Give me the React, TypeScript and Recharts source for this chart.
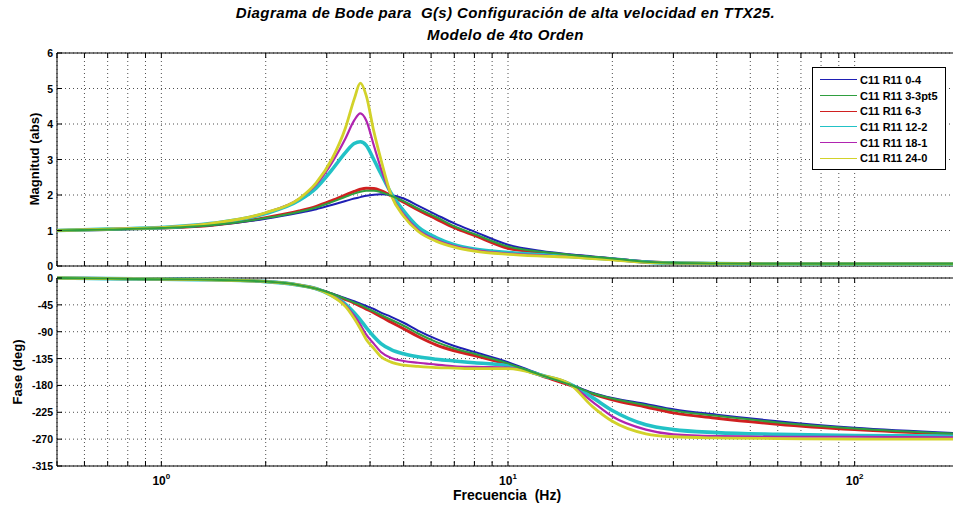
import React from "react";
import {
  LineChart,
  Line,
  XAxis,
  YAxis,
  CartesianGrid,
  ReferenceArea,
} from "recharts";

// frequency points (Hz)
const FREQ = [0.5, 0.7, 1, 1.4, 2, 2.5, 2.8, 3.1, 3.4, 3.6, 3.75, 3.9, 4.1, 4.3, 4.6, 5, 5.5, 6.2, 7, 8, 10, 12.5, 15, 17.5, 20, 25, 30, 40, 60, 100, 200];

// magnitude (abs)
const MAG_04 = [1.0, 1.03, 1.07, 1.15, 1.33, 1.5, 1.6, 1.72, 1.83, 1.9, 1.94, 1.98, 2.01, 2.02, 2.0, 1.9, 1.7, 1.45, 1.2, 0.97, 0.6, 0.42, 0.33, 0.27, 0.22, 0.13, 0.09, 0.07, 0.06, 0.06, 0.06];
const MAG_33 = [1.0, 1.03, 1.07, 1.15, 1.35, 1.53, 1.65, 1.8, 1.95, 2.04, 2.09, 2.12, 2.12, 2.08, 1.98, 1.83, 1.62, 1.38, 1.12, 0.9, 0.55, 0.4, 0.32, 0.26, 0.21, 0.12, 0.09, 0.07, 0.06, 0.06, 0.06];
const MAG_63 = [1.0, 1.03, 1.07, 1.15, 1.36, 1.55, 1.68, 1.84, 2.0, 2.1, 2.16, 2.19, 2.18, 2.12, 1.98, 1.8, 1.58, 1.33, 1.08, 0.86, 0.5, 0.38, 0.3, 0.25, 0.2, 0.12, 0.09, 0.07, 0.06, 0.06, 0.06];
const MAG_122 = [1.0, 1.04, 1.08, 1.2, 1.48, 1.85, 2.2, 2.7, 3.2, 3.45, 3.5, 3.4, 3.0, 2.6, 2.05, 1.55, 1.1, 0.8, 0.6, 0.48, 0.38, 0.32, 0.27, 0.23, 0.19, 0.11, 0.08, 0.07, 0.06, 0.06, 0.06];
const MAG_181 = [1.0, 1.04, 1.08, 1.2, 1.5, 1.9, 2.3, 2.9, 3.6, 4.1, 4.3, 4.1, 3.4, 2.75, 2.0, 1.45, 1.02, 0.74, 0.56, 0.45, 0.35, 0.3, 0.26, 0.22, 0.18, 0.1, 0.08, 0.07, 0.06, 0.06, 0.06];
const MAG_240 = [1.0, 1.04, 1.08, 1.2, 1.5, 1.9, 2.35, 3.0, 3.9, 4.7, 5.15, 4.8, 3.8, 3.0, 2.0, 1.4, 0.98, 0.7, 0.53, 0.42, 0.33, 0.28, 0.25, 0.21, 0.17, 0.1, 0.08, 0.07, 0.06, 0.06, 0.06];

// phase (deg)
const PH_04 = [0, -1, -2, -3, -6, -12, -18, -26, -34, -39, -43, -47, -52, -58, -65, -75, -88, -102, -114, -124, -141, -162, -177, -192, -201, -211, -220, -229, -240, -251, -260];
const PH_33 = [0, -1, -2, -3, -6, -12, -18, -26, -35, -41, -45, -50, -56, -62, -70, -80, -93, -107, -118, -127, -143, -163, -178, -193, -202, -213, -222, -231, -242, -252, -261];
const PH_63 = [0, -1, -2, -3, -6, -12, -18, -27, -36, -42, -47, -52, -58, -65, -74, -85, -98, -112, -122, -130, -145, -164, -179, -194, -204, -216, -226, -235, -245, -254, -262];
const PH_122 = [0, -1, -2, -3, -6, -12, -18, -29, -44, -58, -70, -83, -98, -110, -120, -127, -132, -136, -139, -142, -147, -163, -177, -200, -222, -246, -254, -259, -262, -264, -265];
const PH_181 = [0, -1, -2, -3, -6, -12, -18, -29, -46, -63, -78, -95, -110, -124, -134, -139, -142, -145, -148, -149, -150, -163, -177, -207, -232, -254, -262, -265, -266, -266, -267];
const PH_240 = [0, -1, -2, -3, -6, -12, -18, -30, -48, -68, -85, -103, -118, -132, -141, -146, -148, -150, -151, -152, -152, -163, -177, -215, -240, -261, -266, -268, -269, -270, -270];

// axis ticks
const X_TICKS = [0.5, 0.6, 0.7, 0.8, 0.9, 1, 2, 3, 4, 5, 6, 7, 8, 9, 10, 20, 30, 40, 50, 60, 70, 80, 90, 100, 200];
const X_LABELED = [1, 10, 100];
const MAG_TICKS = [0, 1, 2, 3, 4, 5, 6];
const PH_TICKS = [0, -45, -90, -135, -180, -225, -270, -315];

const SERIES = [
  { key: "s04", name: "C11 R11 0-4", color: "#1f1fb4", width: 2, mag: MAG_04, ph: PH_04 },
  { key: "s33", name: "C11 R11 3-3pt5", color: "#2f9f3f", width: 2, mag: MAG_33, ph: PH_33 },
  { key: "s63", name: "C11 R11 6-3", color: "#d02020", width: 3, mag: MAG_63, ph: PH_63 },
  { key: "s122", name: "C11 R11 12-2", color: "#22c2c6", width: 3.6, mag: MAG_122, ph: PH_122 },
  { key: "s181", name: "C11 R11 18-1", color: "#b024b0", width: 2.2, mag: MAG_181, ph: PH_181 },
  { key: "s240", name: "C11 R11 24-0", color: "#d2d22a", width: 2.8, mag: MAG_240, ph: PH_240 },
];
const DRAW_ORDER = ["s63", "s04", "s122", "s181", "s240", "s33"];

const rows = FREQ.map((f, i) => {
  const r: Record<string, number> = { f };
  SERIES.forEach((s) => {
    r["m_" + s.key] = s.mag[i];
    r["p_" + s.key] = s.ph[i];
  });
  return r;
});

const FONT = "'Liberation Sans', Arial, sans-serif";
const W = 965;

const BottomTick = ({ x, y, payload, labels }: any) => (
  <g>
    <line x1={x} y1={y} x2={x} y2={y - 5} stroke="#000" />
    {labels && X_LABELED.includes(payload.value) && (
      <text x={x} y={y + 19} textAnchor="middle" fontFamily={FONT} fontWeight="bold" fontSize={12} fill="#000">
        10
        <tspan dy={-6} fontSize={8}>{Math.round(Math.log10(payload.value))}</tspan>
      </text>
    )}
  </g>
);

const TopTick = ({ x, y }: any) => <line x1={x} y1={y} x2={x} y2={y + 5} stroke="#000" />;

const LeftTick = ({ x, y, payload }: any) => (
  <g>
    <line x1={x} y1={y} x2={x + 5} y2={y} stroke="#000" />
    <text x={x - 4} y={y + 4} textAnchor="end" fontFamily={FONT} fontWeight="bold" fontSize={10.5} fill="#000">
      {payload.value}
    </text>
  </g>
);

function Panel({ prefix, ticks, domain, height, top, bottom, labels }: any) {
  return (
    <LineChart width={W} height={height} data={rows} margin={{ top, right: 6, bottom, left: 0 }}>
      <CartesianGrid stroke="#222" strokeDasharray="1 3" strokeWidth={0.8} />
      <XAxis
        dataKey="f"
        type="number"
        scale="log"
        domain={[0.5, 200]}
        allowDataOverflow
        ticks={X_TICKS}
        interval={0}
        height={1}
        tickSize={0}
        tickMargin={0}
        axisLine={false}
        tick={<BottomTick labels={labels} />}
      />
      <XAxis
        xAxisId="top"
        orientation="top"
        dataKey="f"
        type="number"
        scale="log"
        domain={[0.5, 200]}
        allowDataOverflow
        ticks={X_TICKS}
        interval={0}
        height={1}
        tickSize={0}
        tickMargin={0}
        axisLine={false}
        tick={<TopTick />}
      />
      <YAxis
        type="number"
        domain={domain}
        ticks={ticks}
        interval={0}
        width={57}
        tickSize={0}
        tickMargin={0}
        axisLine={false}
        tick={<LeftTick />}
      />
      <ReferenceArea x1={0.5} x2={200} y1={domain[0]} y2={domain[1]} fill="none" stroke="#000" strokeWidth={1} />
      {DRAW_ORDER.map((k) => {
        const s = SERIES.find((q) => q.key === k)!;
        return (
          <Line
            key={k}
            dataKey={prefix + k}
            type="monotone"
            stroke={s.color}
            strokeWidth={s.width}
            dot={false}
            isAnimationActive={false}
          />
        );
      })}
    </LineChart>
  );
}

export default function App() {
  return (
    <div style={{ position: "absolute", left: 0, top: 0, width: 953, height: 510, overflow: "hidden", background: "#fff", fontFamily: FONT }}>
      <div style={{ position: "absolute", left: 0, top: 0, width: 953, textAlign: "center", fontWeight: "bold", fontStyle: "italic", fontSize: 15, letterSpacing: 0.4, lineHeight: "22px", paddingTop: 2, paddingLeft: 58, boxSizing: "border-box" }}>
        Diagrama de Bode para&nbsp; G(s) Configuración de alta velocidad en TTX25.
        <br />
        Modelo de 4to Orden
      </div>
      <div style={{ position: "absolute", left: 0, top: 0 }}>
        <Panel prefix="m_" ticks={MAG_TICKS} domain={[0, 6]} height={273} top={52} bottom={6} labels={false} />
      </div>
      <div style={{ position: "absolute", left: 0, top: 270 }}>
        <Panel prefix="p_" ticks={PH_TICKS} domain={[-315, 0]} height={240} top={7} bottom={43} labels />
      </div>
      <div style={{ position: "absolute", left: 34, top: 159, transform: "translate(-50%, -50%) rotate(-90deg)", fontWeight: "bold", fontSize: 13, whiteSpace: "nowrap" }}>
        Magnitud (abs)
      </div>
      <div style={{ position: "absolute", left: 17, top: 372, transform: "translate(-50%, -50%) rotate(-90deg)", fontWeight: "bold", fontSize: 13, whiteSpace: "nowrap" }}>
        Fase (deg)
      </div>
      <div style={{ position: "absolute", left: 507, top: 487, transform: "translateX(-50%)", fontWeight: "bold", fontSize: 14, whiteSpace: "pre" }}>
        Frecuencia  (Hz)
      </div>
      <div style={{ position: "absolute", left: 812, top: 67, width: 134, height: 103, border: "1px solid #000", background: "#fff", paddingTop: 4, boxSizing: "border-box" }}>
        {SERIES.map((s) => (
          <div key={s.key} style={{ display: "flex", alignItems: "center", height: 15.7 }}>
            <div style={{ width: 37, height: 0, borderTop: `1px solid ${s.color}`, marginLeft: 7, marginRight: 3 }} />
            <span style={{ fontSize: 11, fontWeight: "bold", whiteSpace: "nowrap" }}>{s.name}</span>
          </div>
        ))}
      </div>
    </div>
  );
}
